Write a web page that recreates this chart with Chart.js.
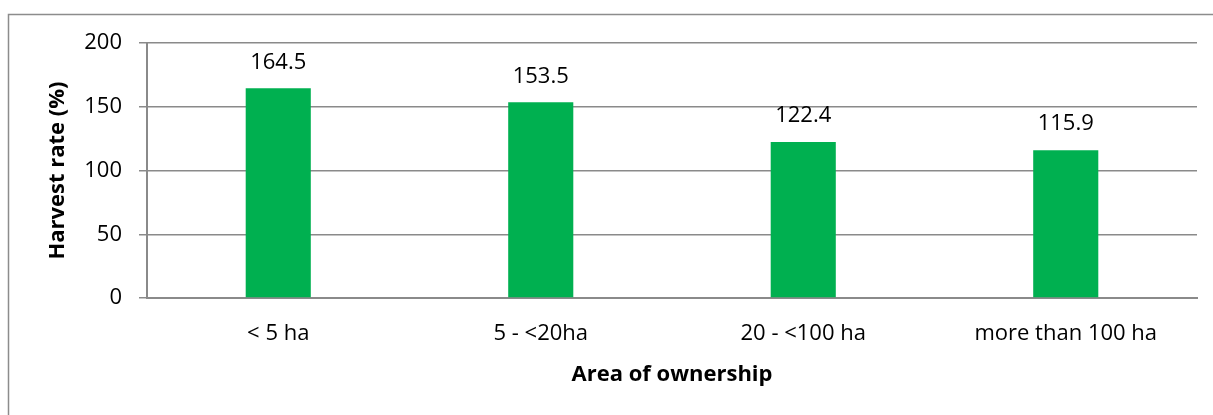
<!DOCTYPE html>
<html>
<head>
<meta charset="utf-8">
<script src="https://cdn.jsdelivr.net/npm/chart.js@4.4.1/dist/chart.umd.min.js"></script>
<style>
  html, body { margin: 0; padding: 0; background: #fff; }
  #wrap { width: 1213px; height: 415px; position: relative; }
</style>
</head>
<body>
<div id="wrap"><canvas id="c" width="1213" height="415"></canvas></div>
<script>
// Harvest rate by ownership size class
const categories = ['< 5 ha', '5 - <20ha', '20 - <100 ha', 'more than 100 ha'];
const harvestRate = [164.5, 153.5, 122.4, 115.9];
const yTicks = [0, 50, 100, 150, 200];

const FONT = "'Open Sans', 'Liberation Sans', sans-serif";
const GRID = '#8a8a8a';
const SIZE = 22;

// Outer frame around the chart object
const framePlugin = {
  id: 'frame',
  beforeDraw(chart) {
    const ctx = chart.ctx;
    ctx.save();
    ctx.fillStyle = '#fff';
    ctx.fillRect(0, 0, chart.width, chart.height);
    ctx.strokeStyle = '#8c8c8c';
    ctx.lineWidth = 1.5;
    ctx.strokeRect(8.5, 14.5, chart.width + 20, chart.height + 20);
    ctx.restore();
  }
};

// Value labels above each bar
const valueLabels = {
  id: 'valueLabels',
  afterDatasetsDraw(chart) {
    const ctx = chart.ctx;
    const meta = chart.getDatasetMeta(0);
    ctx.save();
    ctx.font = SIZE + 'px ' + FONT;
    ctx.fillStyle = '#000';
    ctx.textAlign = 'center';
    ctx.textBaseline = 'middle';
    meta.data.forEach((bar, i) => {
      ctx.fillText(harvestRate[i].toFixed(1), bar.x, bar.y - 26);
    });
    ctx.restore();
  }
};

new Chart(document.getElementById('c'), {
  type: 'bar',
  data: {
    labels: categories,
    datasets: [{
      data: harvestRate,
      backgroundColor: '#00B050',
      borderWidth: 0,
      categoryPercentage: 1,
      barPercentage: 0.248
    }]
  },
  options: {
    responsive: false,
    animation: false,
    devicePixelRatio: 1,
    layout: { padding: { left: 0, right: 16, top: 43, bottom: 0 } },
    plugins: { legend: { display: false }, tooltip: { enabled: false } },
    scales: {
      x: {
        grid: { display: false, drawTicks: false },
        border: { display: true, color: GRID, width: 2 },
        ticks: { color: '#000', font: { family: FONT, size: SIZE }, padding: 23, maxRotation: 0 },
        title: {
          display: true, text: 'Area of ownership', color: '#000',
          font: { family: FONT, size: SIZE, weight: 'bold' },
          padding: { top: 0, bottom: 27 }
        },
        afterFit(scale) { scale.height = 117; }
      },
      y: {
        min: 0, max: 200,
        afterBuildTicks(scale) { scale.ticks = yTicks.map(v => ({ value: v })); },
        grid: { color: GRID, lineWidth: 1.5, drawTicks: true, tickLength: 8, tickColor: GRID },
        border: { display: true, color: GRID, width: 2 },
        ticks: { color: '#000', font: { family: FONT, size: SIZE }, padding: 17 },
        title: {
          display: true, text: 'Harvest rate (%)', color: '#000',
          font: { family: FONT, size: SIZE, weight: 'bold' },
          padding: { top: 45, bottom: 0 }
        },
        afterFit(scale) { scale.width = 147; }
      }
    }
  },
  plugins: [framePlugin, valueLabels]
});
</script>
</body>
</html>
